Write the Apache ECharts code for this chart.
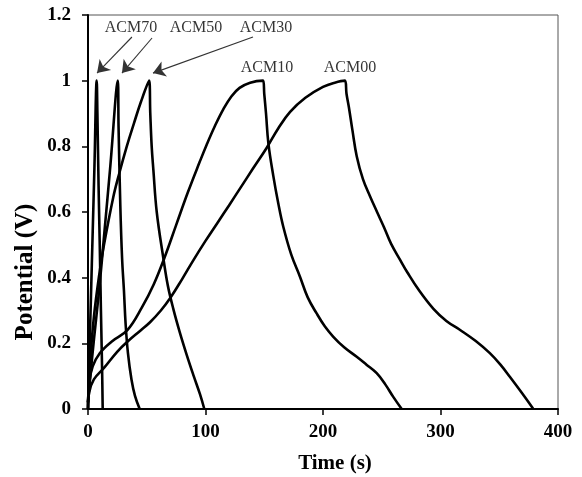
<!DOCTYPE html>
<html>
<head>
<meta charset="utf-8">
<script src="https://cdn.jsdelivr.net/npm/echarts@6/dist/echarts.min.js"></script>
<style>
    html, body { margin: 0; padding: 0; background: #fff; }
    #chart { width: 582px; height: 477px; }
</style>
</head>
<body>
<div id="chart"></div>
<script>
// 充放电曲线数据（时间 s / 电位 V）
const acm70Time = [0, 1, 2.5, 4, 5.5, 7.4, 8, 9, 10, 11, 12, 12.5];
const acm70Volt = [0, 0.14, 0.34, 0.54, 0.74, 1.0, 0.9, 0.68, 0.5, 0.3, 0.12, 0];

const acm50Time = [0, 2, 5, 9.4, 14, 19, 25.3, 26, 27.5, 29, 30.6, 32, 34, 37, 40, 44];
const acm50Volt = [0.02, 0.1, 0.21, 0.36, 0.54, 0.74, 1.0, 0.86, 0.62, 0.46, 0.36, 0.26, 0.17, 0.09, 0.04, 0];

const acm30Time = [0, 2, 5, 10, 13.6, 21.5, 26.4, 33, 39.1, 45, 52, 53, 54.2, 55.6, 58.5, 64.1, 68, 72.6, 78, 84, 90, 95.3, 99];
const acm30Volt = [0.02, 0.15, 0.28, 0.42, 0.5, 0.645, 0.715, 0.8, 0.87, 0.935, 1.0, 0.9, 0.8, 0.73, 0.6, 0.46, 0.375, 0.305, 0.235, 0.165, 0.1, 0.045, 0];

const acm10Time = [0, 1, 4, 10, 20, 33.5, 46, 56, 65, 75, 85, 95, 101, 108, 115, 122, 129, 138, 149,
    150, 151.5, 153.5, 157.7, 162, 166.2, 173, 180.4, 187, 194.6, 201.5, 208.8, 218, 228.7, 237, 245.7, 253, 259.8, 267];
const acm10Volt = [0, 0.08, 0.13, 0.17, 0.205, 0.24, 0.31, 0.38, 0.46, 0.56, 0.66, 0.752, 0.805, 0.862, 0.912, 0.952, 0.978, 0.994, 1.0,
    0.96, 0.9, 0.81, 0.71, 0.625, 0.555, 0.47, 0.403, 0.34, 0.291, 0.252, 0.22, 0.188, 0.159, 0.135, 0.109, 0.075, 0.037, 0];

const acm00Time = [0, 1, 5, 13.6, 25, 33.5, 45, 53, 62, 70, 80, 90, 100, 110, 120, 130, 140, 152, 162, 172, 185, 200, 210, 218.7,
    220, 222, 225, 228.7, 234, 240, 246, 252, 258, 265.5, 272, 282, 294, 305, 317, 330, 342, 351, 359, 369, 379];
const acm00Volt = [0, 0.05, 0.09, 0.125, 0.175, 0.205, 0.24, 0.265, 0.3, 0.338, 0.395, 0.455, 0.512, 0.566, 0.62, 0.675, 0.73, 0.795, 0.855, 0.905, 0.948, 0.981, 0.994, 1.0,
    0.96, 0.92, 0.85, 0.77, 0.7, 0.648, 0.6, 0.553, 0.503, 0.455, 0.415, 0.36, 0.305, 0.268, 0.24, 0.207, 0.17, 0.135, 0.098, 0.05, 0];

// 标注文字与箭头
const labelNames = ['ACM70', 'ACM50', 'ACM30', 'ACM10', 'ACM00'];
const labelTime = [36.6, 91.9, 151.5, 152.3, 223];
const labelVolt = [1.16, 1.16, 1.16, 1.039, 1.039];
const arrowFrom = [[37.4, 1.133], [54.5, 1.13], [140.4, 1.133]];
const arrowTo = [[7.7, 1.023], [28.9, 1.023], [55.3, 1.023]];

const zip = (xs, ys) => xs.map((x, i) => [x, ys[i]]);

const serifFont = '"Liberation Serif", "DejaVu Serif", serif';

const chart = echarts.init(document.getElementById('chart'));

function curve(name, xs, ys) {
    return {
        name: name,
        type: 'line',
        data: zip(xs, ys),
        showSymbol: false,
        smooth: 0.4,
        lineStyle: { color: '#000', width: 2.6 },
        silent: true,
        z: 3
    };
}

const option = {
    animation: false,
    backgroundColor: '#fff',
    grid: {
        left: 88,
        right: 24,
        top: 15,
        bottom: 68,
        show: true,
        borderColor: '#555',
        borderWidth: 1,
        outerBoundsMode: 'none'
    },
    xAxis: {
        type: 'value',
        min: 0,
        max: 400,
        interval: 100,
        name: 'Time (s)',
        nameLocation: 'middle',
        nameGap: 44,
        nameTextStyle: { fontFamily: serifFont, fontWeight: 'bold', fontSize: 21, color: '#000', padding: [0, 0, 0, 24] },
        splitLine: { show: false },
        axisLine: { lineStyle: { color: '#000', width: 2 } },
        axisTick: { length: 6, lineStyle: { color: '#000', width: 1.5 } },
        axisLabel: { margin: 14, fontFamily: serifFont, fontWeight: 'bold', fontSize: 19, color: '#000' }
    },
    yAxis: {
        type: 'value',
        min: 0,
        max: 1.2,
        interval: 0.2,
        splitLine: { show: false },
        axisLine: { show: true, lineStyle: { color: '#000', width: 2 } },
        axisTick: { show: true, length: 6, lineStyle: { color: '#000', width: 1.5 } },
        axisLabel: { margin: 17, fontFamily: serifFont, fontWeight: 'bold', fontSize: 19, color: '#000' }
    },
    graphic: [{
        type: 'text',
        x: 26,
        y: 272,
        rotation: Math.PI / 2,
        style: {
            text: 'Potential (V)',
            font: 'bold 25px ' + serifFont,
            fill: '#000',
            align: 'center',
            verticalAlign: 'middle'
        }
    }],
    series: [
        curve('ACM70', acm70Time, acm70Volt),
        curve('ACM50', acm50Time, acm50Volt),
        curve('ACM30', acm30Time, acm30Volt),
        curve('ACM10', acm10Time, acm10Volt),
        curve('ACM00', acm00Time, acm00Volt),
        {
            name: 'labels',
            type: 'scatter',
            symbolSize: 0,
            silent: true,
            data: labelNames.map((n, i) => [labelTime[i], labelVolt[i], n]),
            label: {
                show: true,
                position: 'inside',
                formatter: p => p.data[2],
                fontFamily: serifFont,
                fontSize: 16,
                color: '#000'
            },
            markLine: {
                silent: true,
                animation: false,
                symbol: ['none', 'arrow'],
                symbolSize: 12,
                lineStyle: { color: '#333', width: 1.1, type: 'solid', opacity: 1 },
                itemStyle: { color: '#111' },
                label: { show: false },
                data: arrowFrom.map((f, i) => [{ coord: f }, { coord: arrowTo[i] }])
            }
        }
    ]
};

chart.setOption(option);
</script>
</body>
</html>
